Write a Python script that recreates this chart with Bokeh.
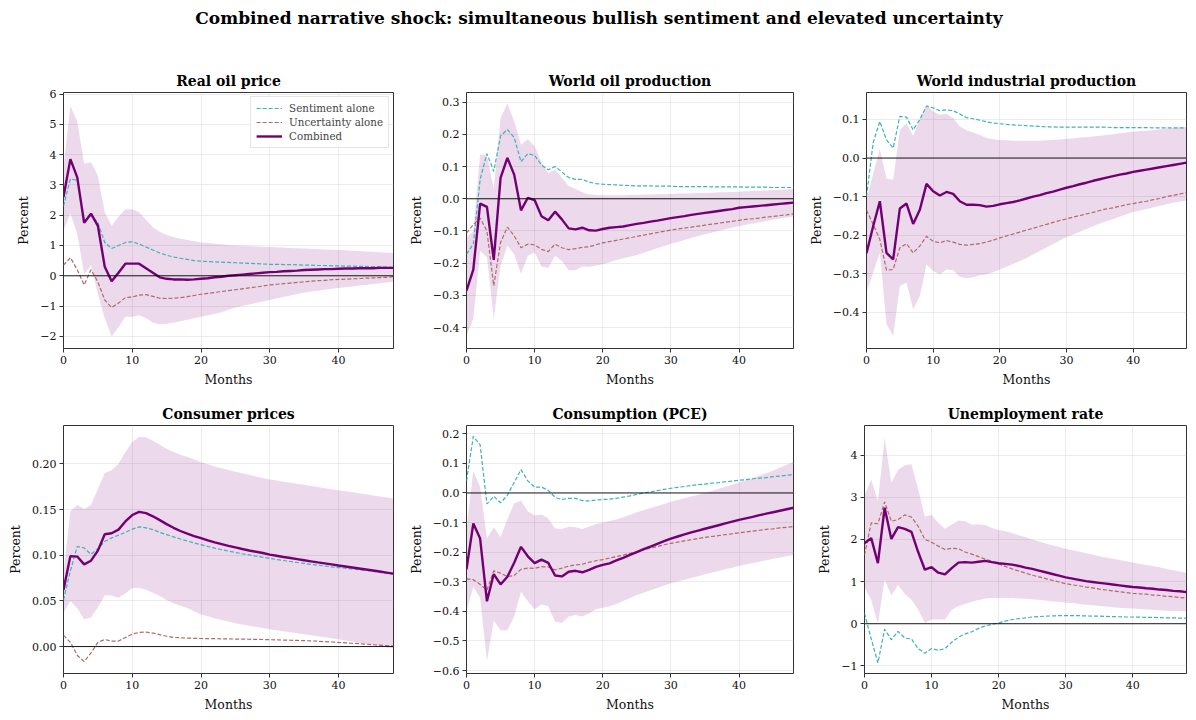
from bokeh.plotting import figure
from bokeh.models import Div, FixedTicker, Span, Legend, LegendItem
from bokeh.layouts import column, row
from bokeh.embed import file_html
from bokeh.resources import INLINE

months = list(range(49))

suptitle = "Combined narrative shock: simultaneous bullish sentiment and elevated uncertainty"
titles = ["Real oil price", "World oil production", "World industrial production",
          "Consumer prices", "Consumption (PCE)", "Unemployment rate"]
series_names = ["Sentiment alone", "Uncertainty alone", "Combined"]
x_ticks = [0, 10, 20, 30, 40]

# ---- Real oil price
oil_comb = [2.6, 3.85, 3.25, 1.75, 2.05, 1.65, 0.3, -0.18, 0.1, 0.4, 0.4, 0.4, 0.25, 0.1, -0.05, -0.1, -0.12, -0.12, -0.13, -0.12, -0.1,
            -0.08, -0.05, -0.03, 0.0, 0.02, 0.04, 0.06, 0.08, 0.1, 0.12,
            0.13, 0.15, 0.16, 0.17, 0.19, 0.2, 0.21, 0.22, 0.22, 0.23,
            0.24, 0.24, 0.25, 0.25, 0.25, 0.26, 0.26, 0.26]
oil_sent = [2.3, 3.2, 3.15, 1.8, 2.0, 1.75, 1.1, 0.9, 1.0, 1.1, 1.12, 1.05, 0.95, 0.85, 0.75, 0.68, 0.62, 0.58, 0.54, 0.5, 0.48,
            0.47, 0.46, 0.45, 0.44, 0.43, 0.42, 0.41, 0.4, 0.39, 0.38,
            0.38, 0.37, 0.37, 0.36, 0.35, 0.35, 0.34, 0.34, 0.33, 0.33,
            0.32, 0.32, 0.31, 0.31, 0.3, 0.3, 0.29, 0.28]
oil_unc = [0.35, 0.6, 0.2, -0.3, 0.2, -0.2, -0.8, -1.05, -0.9, -0.72, -0.7, -0.64, -0.62, -0.68, -0.74, -0.75, -0.74, -0.72, -0.69, -0.65, -0.61,
           -0.58, -0.55, -0.52, -0.49, -0.46, -0.43, -0.4, -0.37, -0.34, -0.3,
           -0.28, -0.26, -0.24, -0.22, -0.2, -0.18, -0.16, -0.15, -0.13, -0.12,
           -0.11, -0.1, -0.09, -0.08, -0.07, -0.06, -0.05, -0.03]
oil_hi = [3.6, 5.6, 5.1, 3.7, 3.75, 3.3, 2.1, 1.65, 1.95, 2.2, 2.2, 2.1, 1.85, 1.6, 1.45, 1.35, 1.28, 1.22, 1.18, 1.14, 1.1,
          1.08, 1.06, 1.04, 1.02, 1.0, 0.99, 0.98, 0.97, 0.96, 0.95,
          0.94, 0.93, 0.92, 0.91, 0.9, 0.89, 0.88, 0.87, 0.86, 0.85,
          0.84, 0.83, 0.82, 0.8, 0.79, 0.78, 0.76, 0.75]
oil_lo = [1.5, 2.05, 1.4, 0.05, 0.35, -0.6, -1.4, -2.0, -1.7, -1.35, -1.35, -1.3, -1.4, -1.55, -1.6, -1.58, -1.55, -1.5, -1.45, -1.4, -1.35,
          -1.3, -1.25, -1.2, -1.12, -1.05, -1.0, -0.95, -0.9, -0.85, -0.8,
          -0.75, -0.7, -0.65, -0.6, -0.55, -0.52, -0.49, -0.46, -0.43, -0.4,
          -0.38, -0.35, -0.32, -0.3, -0.27, -0.25, -0.22, -0.2]

# ---- World oil production
wop_comb = [-0.285, -0.22, -0.015, -0.025, -0.19, 0.065, 0.127, 0.075, -0.036, 0.003, -0.004, -0.054, -0.067, -0.04, -0.064, -0.092, -0.095, -0.09, -0.098, -0.099, -0.094,
            -0.09, -0.088, -0.086, -0.082, -0.078, -0.075, -0.071, -0.068, -0.064, -0.06,
            -0.057, -0.054, -0.05, -0.047, -0.044, -0.041, -0.038, -0.035, -0.032, -0.028,
            -0.026, -0.024, -0.022, -0.02, -0.018, -0.016, -0.014, -0.012]
wop_sent = [-0.172, -0.14, 0.06, 0.14, 0.085, 0.195, 0.215, 0.19, 0.115, 0.14, 0.135, 0.105, 0.09, 0.1, 0.083, 0.066, 0.06, 0.06, 0.052, 0.047, 0.045,
            0.044, 0.043, 0.042, 0.041, 0.04, 0.04, 0.04, 0.039, 0.039, 0.039,
            0.038, 0.038, 0.038, 0.038, 0.038, 0.037, 0.037, 0.037, 0.037, 0.037,
            0.036, 0.036, 0.036, 0.036, 0.035, 0.035, 0.035, 0.035]
wop_unc = [-0.107, -0.08, -0.06, -0.1, -0.27, -0.136, -0.088, -0.115, -0.152, -0.141, -0.143, -0.157, -0.164, -0.141, -0.152, -0.158, -0.155, -0.151, -0.149, -0.143, -0.137,
           -0.133, -0.129, -0.125, -0.121, -0.117, -0.113, -0.109, -0.105, -0.101, -0.097,
           -0.094, -0.091, -0.088, -0.085, -0.082, -0.079, -0.076, -0.073, -0.07, -0.067,
           -0.064, -0.062, -0.06, -0.057, -0.055, -0.052, -0.05, -0.047]
wop_hi = [-0.12, -0.1, 0.137, 0.137, 0.03, 0.25, 0.297, 0.24, 0.168, 0.185, 0.163, 0.113, 0.08, 0.09, 0.065, 0.04, 0.03, 0.02, 0.013, 0.012, 0.011,
          0.011, 0.011, 0.011, 0.012, 0.012, 0.013, 0.013, 0.014, 0.014, 0.015,
          0.016, 0.016, 0.017, 0.018, 0.018, 0.019, 0.02, 0.02, 0.021, 0.022,
          0.023, 0.024, 0.025, 0.026, 0.027, 0.028, 0.029, 0.03]
wop_lo = [-0.425, -0.373, -0.162, -0.182, -0.373, -0.208, -0.146, -0.172, -0.234, -0.177, -0.167, -0.21, -0.215, -0.177, -0.193, -0.222, -0.222, -0.21, -0.211, -0.207, -0.203,
          -0.197, -0.19, -0.185, -0.18, -0.175, -0.168, -0.161, -0.154, -0.147, -0.14,
          -0.134, -0.128, -0.122, -0.116, -0.11, -0.105, -0.1, -0.095, -0.09, -0.085,
          -0.081, -0.077, -0.073, -0.069, -0.065, -0.061, -0.058, -0.055]

# ---- World industrial production
wip_comb = [-0.247, -0.177, -0.112, -0.246, -0.263, -0.131, -0.118, -0.171, -0.134, -0.067, -0.086, -0.097, -0.088, -0.093, -0.112, -0.121, -0.121, -0.122, -0.126, -0.124, -0.12,
            -0.117, -0.114, -0.11, -0.105, -0.1, -0.096, -0.091, -0.087, -0.082, -0.077,
            -0.073, -0.068, -0.064, -0.059, -0.055, -0.051, -0.047, -0.043, -0.04, -0.036,
            -0.033, -0.03, -0.027, -0.024, -0.021, -0.018, -0.015, -0.012]
wip_sent = [-0.1, 0.04, 0.095, 0.047, 0.026, 0.108, 0.106, 0.073, 0.1, 0.135, 0.13, 0.123, 0.125, 0.123, 0.114, 0.105, 0.102, 0.098, 0.094, 0.091, 0.089,
            0.087, 0.086, 0.085, 0.084, 0.083, 0.082, 0.081, 0.081, 0.08, 0.08,
            0.08, 0.08, 0.08, 0.08, 0.08, 0.08, 0.079, 0.079, 0.079, 0.079,
            0.079, 0.079, 0.078, 0.078, 0.078, 0.078, 0.078, 0.078]
wip_unc = [-0.135, -0.172, -0.211, -0.291, -0.289, -0.233, -0.222, -0.246, -0.228, -0.203, -0.216, -0.22, -0.214, -0.218, -0.224, -0.226, -0.224, -0.222, -0.218, -0.213, -0.207,
           -0.202, -0.197, -0.192, -0.187, -0.182, -0.177, -0.172, -0.167, -0.162, -0.158,
           -0.153, -0.149, -0.145, -0.141, -0.136, -0.132, -0.129, -0.125, -0.121, -0.118,
           -0.115, -0.112, -0.108, -0.105, -0.1, -0.097, -0.093, -0.09]
wip_hi = [-0.108, -0.04, 0.023, -0.054, -0.056, 0.073, 0.09, 0.058, 0.099, 0.138, 0.121, 0.112, 0.115, 0.103, 0.082, 0.072, 0.066, 0.06, 0.052, 0.049, 0.047,
          0.046, 0.045, 0.045, 0.045, 0.045, 0.045, 0.046, 0.047, 0.048, 0.05,
          0.051, 0.053, 0.054, 0.056, 0.058, 0.06, 0.062, 0.064, 0.066, 0.068,
          0.07, 0.071, 0.073, 0.075, 0.076, 0.078, 0.079, 0.08]
wip_lo = [-0.349, -0.297, -0.246, -0.431, -0.461, -0.332, -0.323, -0.392, -0.358, -0.276, -0.293, -0.302, -0.289, -0.291, -0.308, -0.312, -0.309, -0.304, -0.302, -0.296, -0.289,
          -0.282, -0.275, -0.267, -0.259, -0.25, -0.241, -0.232, -0.223, -0.214, -0.205,
          -0.198, -0.191, -0.184, -0.177, -0.17, -0.164, -0.158, -0.152, -0.146, -0.14,
          -0.136, -0.132, -0.128, -0.124, -0.12, -0.116, -0.113, -0.11]

# ---- Consumer prices
cpi_comb = [0.062, 0.099, 0.0985, 0.09, 0.094, 0.105, 0.123, 0.124, 0.128, 0.137, 0.144, 0.1475, 0.146, 0.1426, 0.1384, 0.134, 0.13, 0.1265, 0.1236, 0.121, 0.1187,
            0.1163, 0.114, 0.1121, 0.1102, 0.1085, 0.1068, 0.1052, 0.1038, 0.1024, 0.1007,
            0.0994, 0.0981, 0.0969, 0.0957, 0.0945, 0.0933, 0.0921, 0.091, 0.0899, 0.0887,
            0.0876, 0.0865, 0.0854, 0.0843, 0.0832, 0.0821, 0.081, 0.0799]
cpi_sent = [0.051, 0.083, 0.1095, 0.108, 0.101, 0.107, 0.115, 0.119, 0.122, 0.125, 0.1285, 0.131, 0.13, 0.128, 0.125, 0.1225, 0.12, 0.1177, 0.1155, 0.1135, 0.1115,
            0.1095, 0.1077, 0.106, 0.1045, 0.103, 0.1016, 0.1003, 0.099, 0.0977, 0.0965,
            0.0953, 0.0942, 0.0931, 0.092, 0.091, 0.09, 0.0891, 0.0882, 0.0873, 0.0865,
            0.0857, 0.0849, 0.0841, 0.0833, 0.0825, 0.0811, 0.08, 0.079]
cpi_unc = [0.0123, 0.0046, -0.0095, -0.0165, -0.007, 0.0046, 0.0077, 0.006, 0.006, 0.0099, 0.0137, 0.0155, 0.0158, 0.0148, 0.013, 0.0113, 0.01, 0.0096, 0.0093, 0.009, 0.0088,
           0.0087, 0.0086, 0.0085, 0.0084, 0.0082, 0.0081, 0.008, 0.0078, 0.0077, 0.0075,
           0.0073, 0.0071, 0.0069, 0.0067, 0.0065, 0.0062, 0.0058, 0.0054, 0.005, 0.0045,
           0.0041, 0.0036, 0.0031, 0.0026, 0.002, 0.0015, 0.001, 0.0005]
cpi_hi = [0.08, 0.148, 0.155, 0.1507, 0.155, 0.1725, 0.19, 0.193, 0.2, 0.213, 0.224, 0.2295, 0.229, 0.2254, 0.2208, 0.2165, 0.213, 0.21, 0.2077, 0.2048, 0.2018,
          0.1995, 0.197, 0.1952, 0.1933, 0.1915, 0.1897, 0.188, 0.1863, 0.1846, 0.183,
          0.1817, 0.1805, 0.1793, 0.1781, 0.177, 0.1758, 0.1746, 0.1734, 0.1722, 0.171,
          0.1699, 0.1688, 0.1677, 0.1666, 0.1655, 0.1643, 0.1631, 0.162]
cpi_lo = [0.037, 0.05, 0.042, 0.03, 0.0317, 0.043, 0.0563, 0.0556, 0.0535, 0.058, 0.064, 0.0644, 0.0623, 0.0588, 0.0553, 0.051, 0.0475, 0.0447, 0.0423, 0.0387, 0.0352,
          0.0331, 0.031, 0.0291, 0.0273, 0.0255, 0.0241, 0.0228, 0.0215, 0.0203, 0.019,
          0.0179, 0.0168, 0.0157, 0.0146, 0.0135, 0.0124, 0.0113, 0.0102, 0.0091, 0.008,
          0.0067, 0.0054, 0.0041, 0.0028, 0.0015, 0.0004, -0.0008, -0.002]

# ---- Consumption (PCE)
pce_comb = [-0.258, -0.103, -0.154, -0.366, -0.274, -0.309, -0.283, -0.236, -0.182, -0.214, -0.237, -0.225, -0.236, -0.279, -0.282, -0.266, -0.263, -0.268, -0.26, -0.25, -0.243,
            -0.238, -0.228, -0.219, -0.209, -0.2, -0.19, -0.181, -0.172, -0.163, -0.154,
            -0.147, -0.14, -0.133, -0.127, -0.121, -0.115, -0.109, -0.103, -0.097, -0.091,
            -0.086, -0.081, -0.075, -0.07, -0.065, -0.06, -0.055, -0.05]
pce_sent = [0.041, 0.191, 0.163, -0.037, -0.011, -0.033, -0.008, 0.036, 0.079, 0.041, 0.02, 0.02, 0.009, -0.015, -0.022, -0.018, -0.018, -0.026, -0.027, -0.024, -0.022,
            -0.021, -0.018, -0.014, -0.01, -0.005, 0.0, 0.004, 0.008, 0.012, 0.016,
            0.019, 0.022, 0.025, 0.028, 0.03, 0.033, 0.035, 0.038, 0.04, 0.043,
            0.045, 0.048, 0.05, 0.052, 0.055, 0.057, 0.06, 0.062]
pce_unc = [-0.29, -0.293, -0.309, -0.328, -0.263, -0.271, -0.282, -0.279, -0.258, -0.254, -0.255, -0.249, -0.25, -0.26, -0.254, -0.247, -0.243, -0.241, -0.234, -0.229, -0.225,
           -0.22, -0.215, -0.21, -0.204, -0.198, -0.192, -0.186, -0.181, -0.175, -0.17,
           -0.166, -0.162, -0.158, -0.154, -0.15, -0.147, -0.144, -0.141, -0.138, -0.135,
           -0.132, -0.129, -0.126, -0.123, -0.121, -0.118, -0.116, -0.113]
pce_hi = [-0.12, 0.074, 0.02, -0.154, -0.116, -0.149, -0.089, -0.035, -0.026, -0.062, -0.076, -0.073, -0.086, -0.12, -0.122, -0.114, -0.116, -0.122, -0.113, -0.105, -0.1,
          -0.095, -0.09, -0.082, -0.074, -0.065, -0.058, -0.051, -0.044, -0.037, -0.03,
          -0.024, -0.018, -0.012, -0.006, 0.0, 0.007, 0.014, 0.021, 0.028, 0.035,
          0.043, 0.051, 0.059, 0.067, 0.075, 0.085, 0.095, 0.105]
pce_lo = [-0.4, -0.317, -0.355, -0.567, -0.432, -0.464, -0.464, -0.417, -0.334, -0.366, -0.393, -0.377, -0.383, -0.435, -0.439, -0.417, -0.412, -0.417, -0.407, -0.393, -0.388,
          -0.383, -0.375, -0.365, -0.355, -0.345, -0.337, -0.329, -0.321, -0.313, -0.305,
          -0.299, -0.293, -0.287, -0.281, -0.275, -0.269, -0.264, -0.258, -0.253, -0.247,
          -0.242, -0.237, -0.232, -0.227, -0.222, -0.218, -0.214, -0.21]

# ---- Unemployment rate
une_comb = [1.91, 2.03, 1.435, 2.75, 2.01, 2.29, 2.25, 2.18, 1.7, 1.28, 1.34, 1.21, 1.17, 1.32, 1.45, 1.46, 1.45, 1.47, 1.49, 1.46, 1.435,
            1.42, 1.4, 1.37, 1.33, 1.3, 1.26, 1.22, 1.18, 1.14, 1.1,
            1.07, 1.04, 1.01, 0.99, 0.97, 0.95, 0.93, 0.91, 0.89, 0.87,
            0.86, 0.84, 0.83, 0.81, 0.8, 0.78, 0.77, 0.75]
une_sent = [0.25, -0.36, -0.93, -0.13, -0.38, -0.18, -0.34, -0.36, -0.59, -0.7, -0.59, -0.63, -0.59, -0.44, -0.32, -0.24, -0.19, -0.11, -0.05, -0.015, 0.02,
            0.06, 0.1, 0.12, 0.14, 0.16, 0.17, 0.18, 0.185, 0.19, 0.19,
            0.19, 0.19, 0.185, 0.18, 0.18, 0.175, 0.17, 0.165, 0.16, 0.16,
            0.155, 0.15, 0.15, 0.145, 0.14, 0.14, 0.135, 0.13]
une_unc = [1.63, 2.39, 2.37, 2.89, 2.43, 2.47, 2.58, 2.53, 2.31, 2.0, 1.93, 1.84, 1.76, 1.79, 1.78, 1.7, 1.65, 1.59, 1.53, 1.48, 1.42,
           1.36, 1.3, 1.25, 1.2, 1.15, 1.11, 1.07, 1.03, 0.99, 0.95,
           0.92, 0.9, 0.87, 0.85, 0.82, 0.8, 0.78, 0.76, 0.74, 0.72,
           0.71, 0.7, 0.68, 0.67, 0.65, 0.64, 0.62, 0.61]
une_hi = [3.04, 3.42, 2.9, 4.41, 3.34, 3.65, 3.76, 3.78, 3.19, 2.54, 2.58, 2.39, 2.25, 2.35, 2.45, 2.43, 2.35, 2.35, 2.34, 2.27, 2.22,
          2.19, 2.15, 2.1, 2.05, 2.0, 1.95, 1.9, 1.86, 1.82, 1.78,
          1.74, 1.71, 1.67, 1.64, 1.6, 1.57, 1.54, 1.51, 1.48, 1.45,
          1.42, 1.39, 1.37, 1.34, 1.3, 1.27, 1.24, 1.21]
une_lo = [0.86, 0.56, 0.0, 1.05, 0.67, 0.92, 0.71, 0.57, 0.34, 0.02, 0.1, 0.1, 0.1, 0.33, 0.42, 0.47, 0.52, 0.56, 0.6, 0.61, 0.61,
          0.61, 0.61, 0.6, 0.59, 0.58, 0.57, 0.55, 0.53, 0.52, 0.5,
          0.49, 0.47, 0.45, 0.44, 0.42, 0.41, 0.39, 0.38, 0.37, 0.36,
          0.35, 0.34, 0.33, 0.32, 0.31, 0.3, 0.3, 0.29]

# y ticks and labels per panel
oil_yticks = [-2, -1, 0, 1, 2, 3, 4, 5, 6]
oil_ylabels = ["\u22122", "\u22121", "0", "1", "2", "3", "4", "5", "6"]
wop_yticks = [-0.4, -0.3, -0.2, -0.1, 0.0, 0.1, 0.2, 0.3]
wop_ylabels = ["\u22120.4", "\u22120.3", "\u22120.2", "\u22120.1", "0.0", "0.1", "0.2", "0.3"]
wip_yticks = [-0.4, -0.3, -0.2, -0.1, 0.0, 0.1]
wip_ylabels = ["\u22120.4", "\u22120.3", "\u22120.2", "\u22120.1", "0.0", "0.1"]
cpi_yticks = [0.0, 0.05, 0.10, 0.15, 0.20]
cpi_ylabels = ["0.00", "0.05", "0.10", "0.15", "0.20"]
pce_yticks = [-0.6, -0.5, -0.4, -0.3, -0.2, -0.1, 0.0, 0.1, 0.2]
pce_ylabels = ["\u22120.6", "\u22120.5", "\u22120.4", "\u22120.3", "\u22120.2", "\u22120.1", "0.0", "0.1", "0.2"]
une_yticks = [-1, 0, 1, 2, 3, 4]
une_ylabels = ["\u22121", "0", "1", "2", "3", "4"]

ylims = [(-2.4, 6.05), (-0.465, 0.33), (-0.494, 0.17), (-0.0295, 0.242), (-0.61, 0.228), (-1.18, 4.7)]

FONT = "DejaVu Serif"
C_COMB = "#730073"
C_SENT = "#3db3b3"
C_UNC = "#b06a6a"
C_BAND = "#800080"

panels = [
    (oil_comb, oil_sent, oil_unc, oil_lo, oil_hi, oil_yticks, oil_ylabels),
    (wop_comb, wop_sent, wop_unc, wop_lo, wop_hi, wop_yticks, wop_ylabels),
    (wip_comb, wip_sent, wip_unc, wip_lo, wip_hi, wip_yticks, wip_ylabels),
    (cpi_comb, cpi_sent, cpi_unc, cpi_lo, cpi_hi, cpi_yticks, cpi_ylabels),
    (pce_comb, pce_sent, pce_unc, pce_lo, pce_hi, pce_yticks, pce_ylabels),
    (une_comb, une_sent, une_unc, une_lo, une_hi, une_yticks, une_ylabels),
]

# (width, border_left, border_right) per column; (height, border_top, border_bottom) per row
col_geom = [(405, 63, 12), (400, 58, 12), (383, 59, 2)]
row_geom = [(337, 40, 40), (325, 36, 36)]


def make_panel(i):
    comb, sent, unc, lo, hi, yt, yl = panels[i]
    w, bl, br = col_geom[i % 3]
    h, bt, bb = row_geom[i // 3]
    p = figure(width=w, height=h, x_range=(0, 48), y_range=ylims[i],
               output_backend="svg", toolbar_location=None,
               min_border_left=bl, min_border_right=br,
               min_border_top=bt, min_border_bottom=bb)
    p.title.text = titles[i]
    p.title.align = "center"
    p.title.text_font = FONT
    p.title.text_font_size = "14px"
    p.title.text_font_style = "bold"
    p.title.text_color = "#000000"
    p.title.standoff = 7

    p.outline_line_color = "#333333"
    p.outline_line_width = 1
    p.background_fill_color = "white"
    p.border_fill_color = "white"

    p.xaxis.ticker = FixedTicker(ticks=x_ticks)
    p.yaxis.ticker = FixedTicker(ticks=yt)
    p.yaxis.major_label_overrides = {t: l for t, l in zip(yt, yl)}
    p.xaxis.axis_label = "Months"
    p.yaxis.axis_label = "Percent"
    for ax in (p.xaxis, p.yaxis):
        ax.axis_line_color = None
        ax.major_tick_out = 4
        ax.major_tick_in = 0
        ax.major_tick_line_color = "#333333"
        ax.minor_tick_line_color = None
        ax.major_label_text_font = FONT
        ax.major_label_text_font_size = "11px"
        ax.major_label_text_color = "#111111"
        ax.major_label_standoff = 3
        ax.axis_label_text_font = FONT
        ax.axis_label_text_font_size = "12.5px"
        ax.axis_label_text_font_style = "normal"
        ax.axis_label_text_color = "#111111"
    p.xaxis.axis_label_standoff = 5
    p.yaxis.axis_label_standoff = 6
    p.grid.grid_line_color = "#dddddd"
    p.grid.grid_line_alpha = 0.7
    p.grid.grid_line_width = 0.8

    p.varea(x=months, y1=lo, y2=hi, fill_color=C_BAND, fill_alpha=0.15)
    p.add_layout(Span(location=0, dimension="width", line_color="#000000", line_width=0.9))
    r_s = p.line(months, sent, line_color=C_SENT, line_width=1.2, line_dash="4 2")
    r_u = p.line(months, unc, line_color=C_UNC, line_width=1.2, line_dash="4 2")
    r_c = p.line(months, comb, line_color=C_COMB, line_width=2.4)

    if i == 0:
        leg = Legend(items=[LegendItem(label=series_names[0], renderers=[r_s]),
                            LegendItem(label=series_names[1], renderers=[r_u]),
                            LegendItem(label=series_names[2], renderers=[r_c])],
                     location="top_right")
        leg.label_text_font = FONT
        leg.label_text_font_size = "10.3px"
        leg.label_height = 12
        leg.glyph_height = 12
        leg.glyph_width = 26
        leg.spacing = 2
        leg.padding = 5
        leg.margin = 4
        leg.label_standoff = 7
        leg.border_line_color = "#cccccc"
        leg.border_line_width = 1
        leg.background_fill_alpha = 0.85
        p.add_layout(leg)
    return p


figs = [make_panel(i) for i in range(6)]

header = Div(text=suptitle, width=1188, height=42,
             styles={"font-family": FONT, "font-weight": "bold", "font-size": "17px",
                     "text-align": "center", "color": "#000000", "width": "1188px",
                     "padding-top": "1px"})

layout = column(header, row(figs[0], figs[1], figs[2]), row(figs[3], figs[4], figs[5]))

open("out.html", "w").write(file_html(layout, INLINE))
